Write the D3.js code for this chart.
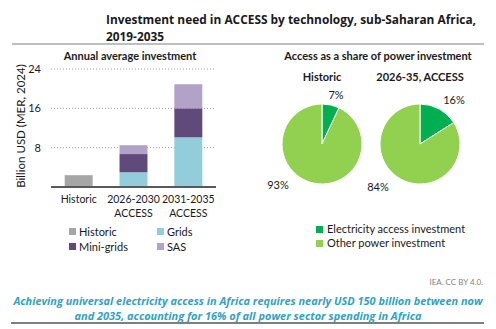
<!DOCTYPE html>
<html>
<head>
<meta charset="utf-8">
<script src="https://cdn.jsdelivr.net/npm/d3@7"></script>
<style>
  body { margin: 0; background: #fff; }
  text { font-family: Lato, "Open Sans", sans-serif; fill: #1a1a1a; }
</style>
</head>
<body>
<div id="chart"></div>
<script>
// bar chart data (billion USD)
let categories = ["Historic", "2026-2030 ACCESS", "2031-2035 ACCESS"]
let seriesNames = ["Historic", "Grids", "Mini-grids", "SAS"]
let historicVals = [2.4, 0, 0]
let gridsVals = [0, 3.0, 10.1]
let miniGridsVals = [0, 3.7, 5.9]
let sasVals = [0, 1.8, 4.9]
let yTicks = [8, 16, 24]
let seriesColors = ["#a6a6a6", "#92cddc", "#604a7b", "#b3a2c7"]

// pie data (percent)
let pieTitles = ["Historic", "2026-35, ACCESS"]
let accessShare = [7, 16]
let otherShare = [93, 84]
let pieNames = ["Electricity access investment", "Other power investment"]
let pieColors = ["#00b050", "#92d050"]

var W = 496, H = 329

var svg = d3.select("#chart")
    .append("svg")
    .attr("width", W)
    .attr("height", H)

// ---- header ----
svg.append("text")
    .attr("x", 106).attr("y", 24)
    .attr("textLength", 370).attr("lengthAdjust", "spacingAndGlyphs")
    .style("font-family", "'Open Sans', sans-serif")
    .style("font-weight", "bold").style("font-size", "12.5px")
    .text("Investment need in ACCESS by technology, sub-Saharan Africa,")
svg.append("text")
    .attr("x", 106).attr("y", 41)
    .attr("textLength", 58).attr("lengthAdjust", "spacingAndGlyphs")
    .style("font-family", "'Open Sans', sans-serif")
    .style("font-weight", "bold").style("font-size", "12.5px")
    .text("2019-2035")
svg.append("line")
    .attr("x1", 12).attr("x2", 484).attr("y1", 44).attr("y2", 44)
    .attr("stroke", "#7f7f7f").attr("stroke-width", 1)

svg.append("text")
    .attr("x", 130).attr("y", 60).attr("text-anchor", "middle")
    .style("font-weight", "bold").style("font-size", "11px")
    .text("Annual average investment")
svg.append("text")
    .attr("x", 378).attr("y", 60).attr("text-anchor", "middle")
    .style("font-weight", "bold").style("font-size", "11px")
    .text("Access as a share of power investment")

// ---- stacked bars ----
var rows = categories.map(function (c, i) {
    return { cat: c, "Historic": historicVals[i], "Grids": gridsVals[i], "Mini-grids": miniGridsVals[i], "SAS": sasVals[i] }
})
var stacked = d3.stack().keys(seriesNames)(rows)

var x = d3.scaleBand().domain(categories).range([51, 216]).paddingInner(0.49).paddingOuter(0.25)
var y = d3.scaleLinear().domain([0, 24]).range([187, 69])

var g = svg.append("g")

// gridlines
g.selectAll(".grid")
    .data(yTicks)
    .enter()
    .append("line")
    .attr("x1", 51).attr("x2", 216)
    .attr("y1", function (d) { return y(d) }).attr("y2", function (d) { return y(d) })
    .attr("stroke", "#9a9a9a").attr("stroke-width", 1).attr("stroke-dasharray", "1,2")

var yAxis = g.append("g")
    .attr("transform", "translate(51,0)")
    .call(d3.axisLeft(y).tickValues(yTicks).tickSize(0).tickPadding(10))
yAxis.select(".domain").remove()
yAxis.selectAll("text").style("font-family", "Lato, sans-serif").style("font-size", "11px").attr("fill", "#1a1a1a")

g.selectAll(".layer")
    .data(stacked)
    .enter()
    .append("g")
    .attr("fill", function (d, i) { return seriesColors[i] })
    .selectAll("rect")
    .data(function (d) { return d })
    .enter()
    .append("rect")
    .attr("x", function (d) { return x(d.data.cat) })
    .attr("y", function (d) { return y(d[1]) })
    .attr("width", x.bandwidth())
    .attr("height", function (d) { return y(d[0]) - y(d[1]) })

g.append("line")
    .attr("x1", 51).attr("x2", 216).attr("y1", y(0)).attr("y2", y(0))
    .attr("stroke", "#595959").attr("stroke-width", 2)

// category labels
g.selectAll(".catlab")
    .data(categories)
    .enter()
    .append("text")
    .attr("text-anchor", "middle")
    .attr("x", function (d) { return x(d) + x.bandwidth() / 2 })
    .attr("y", 203)
    .style("font-size", "10.5px")
    .each(function (d) {
        var parts = d.split(" ")
        var t = d3.select(this)
        parts.forEach(function (p, i) {
            t.append("tspan").attr("x", x(d) + x.bandwidth() / 2).attr("dy", i === 0 ? 0 : 13.5).text(p)
        })
    })

svg.append("text")
    .attr("transform", "translate(25,126) rotate(-90)")
    .attr("text-anchor", "middle")
    .style("font-size", "11.5px")
    .text("Billion USD (MER, 2024)")

// bar legend
var legPos = [[69, 232], [157, 232], [69, 247], [157, 247]]
var barLegendOrder = ["Historic", "Grids", "Mini-grids", "SAS"]
barLegendOrder.forEach(function (name, i) {
    var col = seriesColors[seriesNames.indexOf(name)]
    svg.append("rect").attr("x", legPos[i][0]).attr("y", legPos[i][1] - 4).attr("width", 7).attr("height", 7).attr("fill", col)
    svg.append("text").attr("x", legPos[i][0] + 10).attr("y", legPos[i][1] + 3.5)
        .style("font-size", "11px").text(name)
})

// ---- pies ----
var pieCenters = [322, 420]
var pie = d3.pie().sort(null).value(function (d) { return d })
var arc = d3.arc().innerRadius(0).outerRadius(40)
var labelOffsets = [[[14, -49], [-44, 41]], [[34, -44], [-42, 43]]]

pieTitles.forEach(function (t, i) {
    svg.append("text")
        .attr("x", pieCenters[i]).attr("y", 81).attr("text-anchor", "middle")
        .style("font-weight", "bold").style("font-size", "11px")
        .text(t)

    var pg = svg.append("g").attr("transform", "translate(" + pieCenters[i] + ",144)")
    var arcs = pie([accessShare[i], otherShare[i]])
    pg.selectAll("path")
        .data(arcs)
        .enter()
        .append("path")
        .attr("d", arc)
        .attr("fill", function (d, j) { return pieColors[j] })
        .attr("stroke", "#fff").attr("stroke-width", 1)

    pg.selectAll(".plab")
        .data(arcs)
        .enter()
        .append("text")
        .attr("text-anchor", "middle")
        .attr("x", function (d, j) { return labelOffsets[i][j][0] })
        .attr("y", function (d, j) { return labelOffsets[i][j][1] + 4 })
        .style("font-size", "11px")
        .text(function (d) { return d.data + "%" })
})

// pie legend
pieNames.forEach(function (n, i) {
    svg.append("rect").attr("x", 316).attr("y", 226 + i * 14).attr("width", 7).attr("height", 7).attr("fill", pieColors[i])
    svg.append("text").attr("x", 327).attr("y", 233 + i * 14).style("font-size", "11px").text(n)
})

// ---- footer ----
svg.append("text")
    .attr("x", 483).attr("y", 285).attr("text-anchor", "end")
    .style("font-size", "8px").style("fill", "#7f7f7f")
    .text("IEA. CC BY 4.0.")

var captionLines = ["Achieving universal electricity access in Africa requires nearly USD 150 billion between now",
    "and 2035, accounting for 16% of all power sector spending in Africa"]
var captionWidths = [469, 347]
captionLines.forEach(function (l, i) {
    svg.append("text")
        .attr("x", 248).attr("y", 305 + i * 15).attr("text-anchor", "middle")
        .attr("textLength", captionWidths[i]).attr("lengthAdjust", "spacingAndGlyphs")
        .style("font-family", "'Open Sans', sans-serif")
        .style("font-weight", "bold").style("font-style", "italic").style("font-size", "10.5px")
        .style("fill", "#31a2c1")
        .text(l)
})
svg.append("line")
    .attr("x1", 11).attr("x2", 484).attr("y1", 323).attr("y2", 323)
    .attr("stroke", "#7f7f7f").attr("stroke-width", 2)
</script>
</body>
</html>
